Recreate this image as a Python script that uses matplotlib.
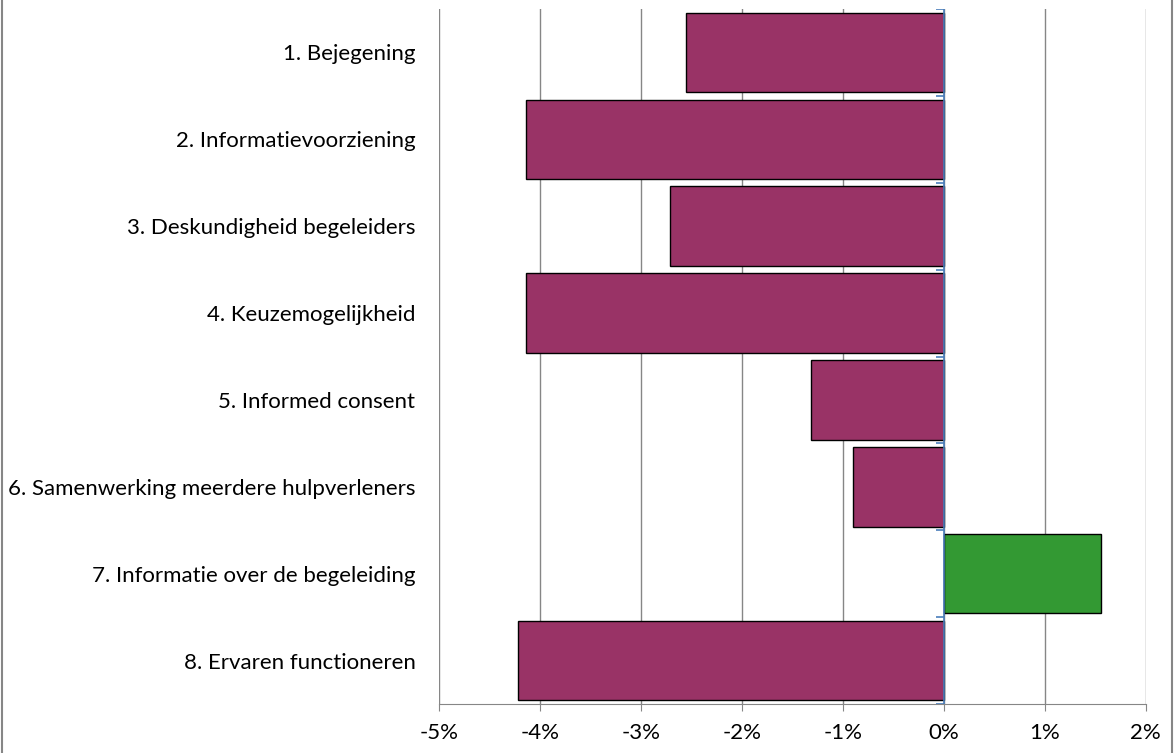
import matplotlib.pyplot as plt
import numpy as np

categories = ["1. Bejegening", "2. Informatievoorziening", "3. Deskundigheid begeleiders",
              "4. Keuzemogelijkheid", "5. Informed consent",
              "6. Samenwerking meerdere hulpverleners", "7. Informatie over de begeleiding",
              "8. Ervaren functioneren"]
values = [-2.55, -4.14, -2.71, -4.14, -1.32, -0.90, 1.56, -4.22]
xticks = [-5, -4, -3, -2, -1, 0, 1, 2]

plt.rcParams['font.family'] = ['Lato', 'DejaVu Sans']

fig = plt.figure(figsize=(11.74, 7.53), dpi=100)
ax = fig.add_axes([0.374, 0.065, 0.602, 0.923])

y = np.arange(len(categories))
colors = ['#339933' if v > 0 else '#993366' for v in values]
ax.barh(y, values, height=0.915, color=colors, edgecolor='black', linewidth=1, zorder=3)

ax.set_xlim(-5, 2)
ax.set_ylim(len(categories) - 0.5, -0.5)
ax.set_xticks(xticks)
ax.set_xticklabels(["%d%%" % t for t in xticks], fontsize=16)
ax.set_yticks(y)
ax.set_yticklabels(categories, fontsize=16)
ax.tick_params(axis='y', length=0, pad=17)
ax.tick_params(axis='x', length=5, color='#868686', pad=9)

ax.grid(axis='x', color='#868686', linewidth=1, zorder=0)
for s in ['top', 'right', 'left']:
    ax.spines[s].set_visible(False)
ax.spines['bottom'].set_color('#868686')

# value axis at zero, with small category ticks
ax.axvline(0, color='#4A7EBB', linewidth=1.2, zorder=4)
bounds = np.arange(len(categories) + 1) - 0.5
ax.hlines(bounds, -0.08, 0, color='#4A7EBB', linewidth=1.2, zorder=4)

# chart border
fig.add_artist(plt.Line2D([0.002, 0.002], [0, 1], color='#868686', linewidth=1.5))
fig.add_artist(plt.Line2D([0.998, 0.998], [0, 1], color='#868686', linewidth=1.5))

fig.savefig('out.png', dpi=100)
